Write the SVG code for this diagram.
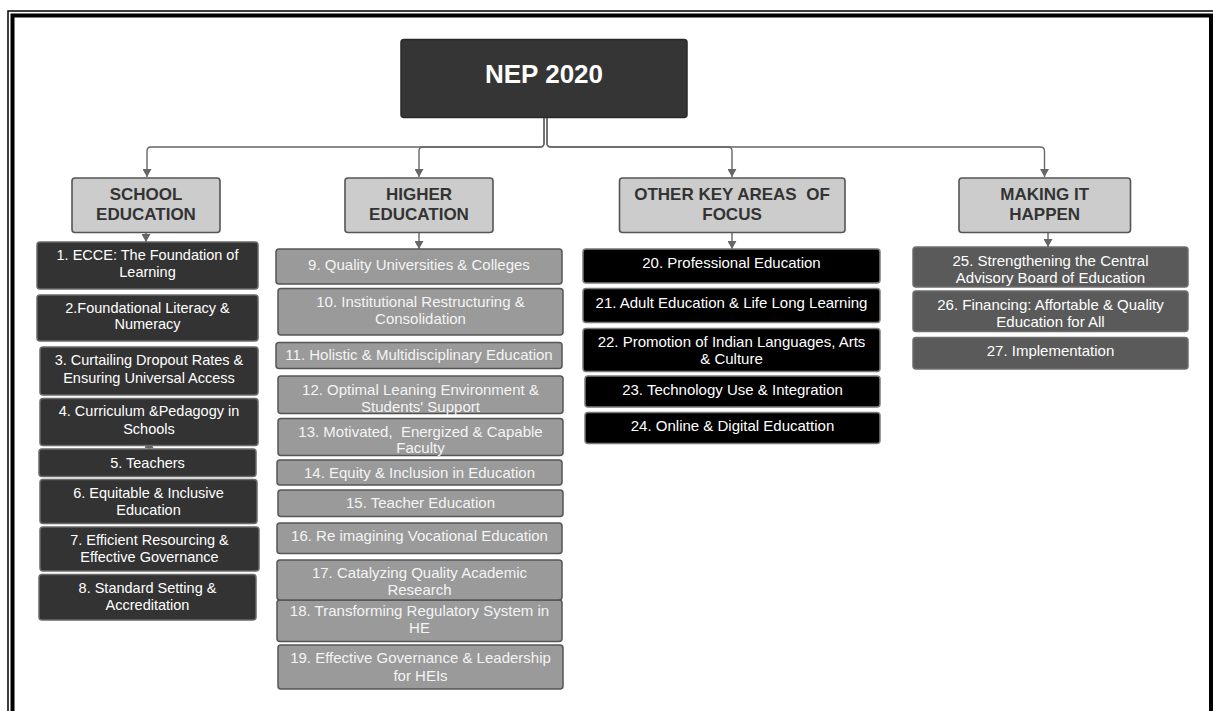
<svg xmlns="http://www.w3.org/2000/svg" width="1213" height="711" viewBox="0 0 1213 711">
  <style>
    text { font-family: "Liberation Sans", Arial, sans-serif; text-anchor: middle; white-space: pre; }
    .root rect { fill: #353535; stroke: #2a2a2a; stroke-width: 1.5; }
    .root text { fill: #ffffff; font-size: 26px; font-weight: bold; }
    .cat rect { fill: #cccccc; stroke: #555555; stroke-width: 1.6; }
    .cat text { fill: #333333; font-size: 17px; font-weight: bold; }
    .school rect { fill: #333333; stroke: #6a6a6a; stroke-width: 1.5; }
    .school text { fill: #ffffff; font-size: 14.5px; }
    .higher rect { fill: #9a9a9a; stroke: #555555; stroke-width: 1.5; }
    .higher text { fill: #f4f4f4; font-size: 15px; }
    .other rect { fill: #000000; stroke: #7a7a7a; stroke-width: 1.5; }
    .other text { fill: #ffffff; font-size: 15px; }
    .making rect { fill: #5a5a5a; stroke: #6e6e6e; stroke-width: 1.5; }
    .making text { fill: #ffffff; font-size: 15px; }
    .conn path { fill: none; stroke: #666666; stroke-width: 1.4; }
  </style>
  <defs>
    <marker id="arrow" viewBox="0 0 8 9" refX="8" refY="4.5" markerWidth="8" markerHeight="9" markerUnits="userSpaceOnUse" orient="auto">
      <path d="M0,0 L8,4.5 L0,9 Z" fill="#666666"/>
    </marker>
  </defs>

  <rect width="1213" height="711" fill="#ffffff"/>

  <!-- page frame: thin outer rule and heavy inner rule -->
  <g id="frame" fill="none" stroke="#000000">
    <path d="M8,712 V11 H1214" stroke-width="1.5"/>
    <path d="M12.5,712 V15.5 H1211 V712" stroke-width="4"/>
  </g>

  <!-- connectors -->
  <g id="connectors" class="conn">
    <path d="M544,117 V143 Q544,147 540,147 H151 Q147,147 147,151 V177" marker-end="url(#arrow)"/>
    <path d="M544,117 V143 Q544,147 540,147 H423 Q419,147 419,151 V177" marker-end="url(#arrow)"/>
    <path d="M547,117 V143 Q547,147 551,147 H728 Q732,147 732,151 V177" marker-end="url(#arrow)"/>
    <path d="M547,117 V143 Q547,147 551,147 H1040 Q1044.5,147 1044.5,151 V177" marker-end="url(#arrow)"/>
    <path d="M146,233 V242" marker-end="url(#arrow)"/>
    <path d="M419,233 V249" marker-end="url(#arrow)"/>
    <path d="M732,233 V249" marker-end="url(#arrow)"/>
    <path d="M1048,233 V247" marker-end="url(#arrow)"/>
    <path d="M149,450 V440" marker-end="url(#arrow)"/>
  </g>

  <!-- root -->
  <g id="nep2020" class="root">
    <rect x="401" y="39.5" width="286" height="78" rx="3"/>
    <text x="544" y="83">NEP 2020</text>
  </g>

  <!-- categories -->
  <g id="school-education" class="cat">
    <rect x="72" y="178" width="148" height="54.5" rx="3"/>
    <text x="146" y="199.5">SCHOOL</text>
    <text x="146" y="220">EDUCATION</text>
  </g>
  <g id="higher-education" class="cat">
    <rect x="345" y="178" width="148" height="54.5" rx="3"/>
    <text x="419" y="199.5">HIGHER</text>
    <text x="419" y="220">EDUCATION</text>
  </g>
  <g id="other-key-areas" class="cat">
    <rect x="619.5" y="178" width="225.5" height="54.5" rx="3"/>
    <text x="732" y="199.5">OTHER KEY AREAS  OF</text>
    <text x="732" y="220">FOCUS</text>
  </g>
  <g id="making-it-happen" class="cat">
    <rect x="959" y="178" width="171.5" height="54.5" rx="3"/>
    <text x="1044.7" y="199.5">MAKING IT</text>
    <text x="1044.7" y="220">HAPPEN</text>
  </g>

  <!-- school education items -->
  <g id="item-1" class="school">
    <rect x="37" y="242" width="221" height="47" rx="3"/>
    <text x="147.5" y="259.5">1. ECCE: The Foundation of</text>
    <text x="147.5" y="276.5">Learning</text>
  </g>
  <g id="item-2" class="school">
    <rect x="37" y="295" width="221" height="46" rx="3"/>
    <text x="147.5" y="312.5">2.Foundational Literacy &amp;</text>
    <text x="147.5" y="329">Numeracy</text>
  </g>
  <g id="item-3" class="school">
    <rect x="40" y="347" width="218" height="48" rx="3"/>
    <text x="149" y="365">3. Curtailing Dropout Rates &amp;</text>
    <text x="149" y="382.5">Ensuring Universal Access</text>
  </g>
  <g id="item-4" class="school">
    <rect x="40" y="398.5" width="218" height="47" rx="3"/>
    <text x="149" y="416">4. Curriculum &amp;Pedagogy in</text>
    <text x="149" y="433.5">Schools</text>
  </g>
  <g id="item-5" class="school">
    <rect x="39" y="449" width="217" height="27.5" rx="3"/>
    <text x="147.5" y="467.5">5. Teachers</text>
  </g>
  <g id="item-6" class="school">
    <rect x="40" y="479.5" width="217" height="44" rx="3"/>
    <text x="148.5" y="497.5">6. Equitable &amp; Inclusive</text>
    <text x="148.5" y="514.5">Education</text>
  </g>
  <g id="item-7" class="school">
    <rect x="40" y="527" width="219" height="44" rx="3"/>
    <text x="149.5" y="544.5">7. Efficient Resourcing &amp;</text>
    <text x="149.5" y="562">Effective Governance</text>
  </g>
  <g id="item-8" class="school">
    <rect x="39" y="574.5" width="217" height="45.5" rx="3"/>
    <text x="147.5" y="593">8. Standard Setting &amp;</text>
    <text x="147.5" y="610">Accreditation</text>
  </g>

  <!-- higher education items -->
  <g id="item-9" class="higher">
    <rect x="276" y="249" width="286" height="35" rx="3"/>
    <text x="419" y="269.5">9. Quality Universities &amp; Colleges</text>
  </g>
  <g id="item-10" class="higher">
    <rect x="278" y="288.5" width="285" height="46.5" rx="3"/>
    <text x="420.5" y="306.7">10. Institutional Restructuring &amp;</text>
    <text x="420.5" y="324">Consolidation</text>
  </g>
  <g id="item-11" class="higher">
    <rect x="276" y="342.5" width="286" height="26" rx="3"/>
    <text x="419" y="360">11. Holistic &amp; Multidisciplinary Education</text>
  </g>
  <g id="item-12" class="higher">
    <rect x="278" y="376" width="285" height="37.5" rx="3"/>
    <text x="420.5" y="395">12. Optimal Leaning Environment &amp;</text>
    <text x="420.5" y="411.7">Students' Support</text>
  </g>
  <g id="item-13" class="higher">
    <rect x="278" y="418.5" width="285" height="37" rx="3"/>
    <text x="420.5" y="436.7">13. Motivated,  Energized &amp; Capable</text>
    <text x="420.5" y="453.3">Faculty</text>
  </g>
  <g id="item-14" class="higher">
    <rect x="277" y="460" width="285" height="25" rx="3"/>
    <text x="419.5" y="478.3">14. Equity &amp; Inclusion in Education</text>
  </g>
  <g id="item-15" class="higher">
    <rect x="278" y="490" width="285" height="26.5" rx="3"/>
    <text x="420.5" y="508.3">15. Teacher Education</text>
  </g>
  <g id="item-16" class="higher">
    <rect x="277" y="523" width="285" height="30.5" rx="3"/>
    <text x="419.5" y="540.7">16. Re imagining Vocational Education</text>
  </g>
  <g id="item-18" class="higher">
    <rect x="277" y="600" width="285" height="41.5" rx="3"/>
    <text x="419.5" y="615.7">18. Transforming Regulatory System in</text>
    <text x="419.5" y="633.3">HE</text>
  </g>
  <g id="item-17" class="higher">
    <rect x="277" y="560" width="285" height="40" rx="3"/>
    <text x="419.5" y="578.3">17. Catalyzing Quality Academic</text>
    <text x="419.5" y="595">Research</text>
  </g>
  <g id="item-19" class="higher">
    <rect x="278" y="645" width="285" height="44" rx="3"/>
    <text x="420.5" y="663.3">19. Effective Governance &amp; Leadership</text>
    <text x="420.5" y="681">for HEIs</text>
  </g>

  <!-- other key areas items -->
  <g id="item-20" class="other">
    <rect x="583" y="249" width="297" height="34" rx="3"/>
    <text x="731.5" y="267.7">20. Professional Education</text>
  </g>
  <g id="item-21" class="other">
    <rect x="583" y="288.5" width="297" height="34" rx="3"/>
    <text x="731.5" y="307.7">21. Adult Education &amp; Life Long Learning</text>
  </g>
  <g id="item-22" class="other">
    <rect x="583" y="328.5" width="297" height="43" rx="3"/>
    <text x="731.5" y="346.7">22. Promotion of Indian Languages, Arts</text>
    <text x="731.5" y="364">&amp; Culture</text>
  </g>
  <g id="item-23" class="other">
    <rect x="585" y="376" width="295" height="31" rx="3"/>
    <text x="732.5" y="395">23. Technology Use &amp; Integration</text>
  </g>
  <g id="item-24" class="other">
    <rect x="585" y="412.5" width="295" height="31" rx="3"/>
    <text x="732.5" y="430.7">24. Online &amp; Digital Educattion</text>
  </g>

  <!-- making it happen items -->
  <g id="item-25" class="making">
    <rect x="913" y="247" width="275" height="40" rx="3"/>
    <text x="1050.5" y="265.7">25. Strengthening the Central</text>
    <text x="1050.5" y="282.7">Advisory Board of Education</text>
  </g>
  <g id="item-26" class="making">
    <rect x="913" y="291" width="275" height="40.5" rx="3"/>
    <text x="1050.5" y="310">26. Financing: Affortable &amp; Quality</text>
    <text x="1050.5" y="326.7">Education for All</text>
  </g>
  <g id="item-27" class="making">
    <rect x="913" y="337.5" width="275" height="31.5" rx="3"/>
    <text x="1050.5" y="356">27. Implementation</text>
  </g>
</svg>
